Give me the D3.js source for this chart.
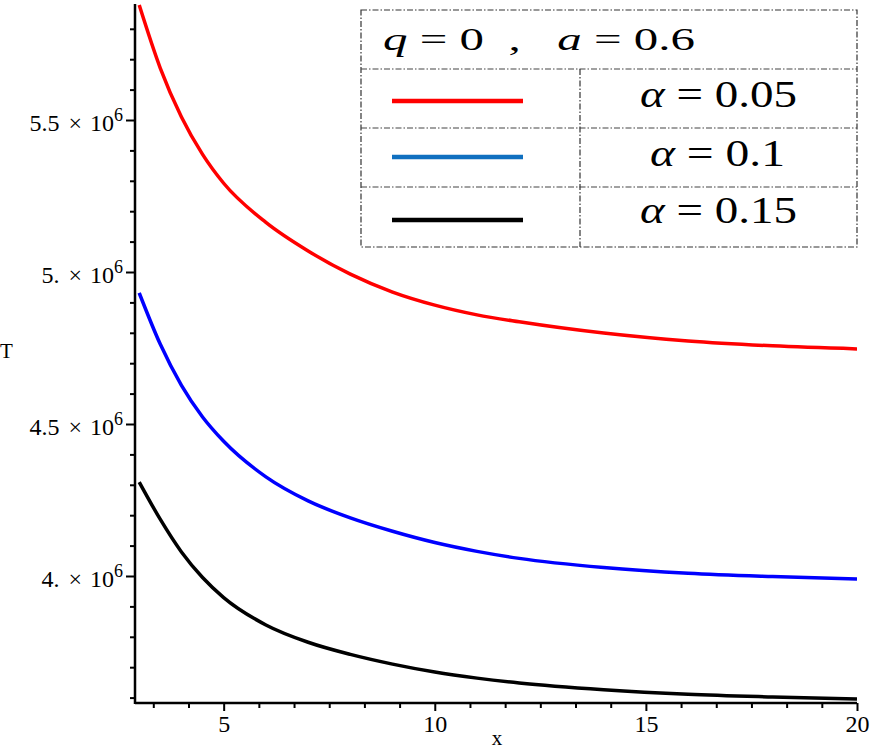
<!DOCTYPE html>
<html>
<head>
<meta charset="utf-8">
<script src="https://cdn.jsdelivr.net/npm/d3@7/dist/d3.min.js"></script>
<style>
  html, body { margin: 0; padding: 0; background: #fff; }
  svg { display: block; }
  text { font-family: "Liberation Serif", "Times New Roman", serif; fill: #000; }
</style>
</head>
<body>
<svg id="chart" width="871" height="752"></svg>
<script>
// ---- data ----
const xValues = [3, 3.5, 4, 4.5, 5, 6, 7, 8, 9, 10, 11, 12, 14, 16, 18, 20];
const seriesAlpha005 = [5.878e6, 5.670e6, 5.510e6, 5.387e6, 5.292e6, 5.163e6, 5.069e6, 4.993e6, 4.934e6, 4.891e6, 4.859e6, 4.836e6, 4.799e6, 4.773e6, 4.757e6, 4.747e6];
const seriesAlpha01  = [4.931e6, 4.762e6, 4.627e6, 4.523e6, 4.443e6, 4.326e6, 4.247e6, 4.191e6, 4.147e6, 4.110e6, 4.081e6, 4.058e6, 4.028e6, 4.009e6, 3.998e6, 3.990e6];
const seriesAlpha015 = [4.309e6, 4.186e6, 4.079e6, 3.995e6, 3.929e6, 3.839e6, 3.782e6, 3.742e6, 3.710e6, 3.684e6, 3.664e6, 3.648e6, 3.626e6, 3.611e6, 3.602e6, 3.595e6];
const seriesNames = ["0.05", "0.1", "0.15"];
const seriesColors = ["#ff0000", "#0000ff", "#000000"];
const legendColors = ["#ff0000", "#1070c0", "#000000"];
const xMajorTicks = [5, 10, 15, 20];
const xMinorTicks = [3.3333, 4.1667, 5.8333, 6.6667, 7.5, 8.3333, 9.1667, 10.8333, 11.6667, 12.5, 13.3333, 14.1667, 15.8333, 16.6667, 17.5, 18.3333, 19.1667];
const yMajorTicks = [4.0e6, 4.5e6, 5.0e6, 5.5e6];
const yMajorLabels = ["4.", "4.5", "5.", "5.5"];
const yMinorTicks = [3.6e6, 3.7e6, 3.8e6, 3.9e6, 4.1e6, 4.2e6, 4.3e6, 4.4e6, 4.6e6, 4.7e6, 4.8e6, 4.9e6, 5.1e6, 5.2e6, 5.3e6, 5.4e6, 5.6e6, 5.7e6, 5.8e6];
const xDomain = [2.9, 20];
const yDomain = [3.5822e6, 5.8816e6];

// ---- layout ----
const svg = d3.select("#chart");
const pLeft = 135, pRight = 857, pTop = 4, pBottom = 703;
const x = d3.scaleLinear().domain(xDomain).range([pLeft, pRight]);
const y = d3.scaleLinear().domain(yDomain).range([pBottom, pTop]);

// curves
const series = [seriesAlpha005, seriesAlpha01, seriesAlpha015];
const line = d3.line().x(d => x(d[0])).y(d => y(d[1])).curve(d3.curveMonotoneX);
series.forEach((s, i) => {
  svg.append("path")
    .datum(xValues.map((xv, j) => [xv, s[j]]))
    .attr("d", line)
    .attr("fill", "none")
    .attr("stroke", seriesColors[i])
    .attr("stroke-width", 3.5)
    .attr("stroke-linecap", "butt");
});

// x axis
const gx = svg.append("g").attr("transform", `translate(0,${pBottom})`);
gx.call(d3.axisBottom(x).tickValues(xMinorTicks).tickSize(5).tickFormat("").tickSizeOuter(0));
gx.call(g => g.select(".domain").remove());
const gx2 = svg.append("g").attr("transform", `translate(0,${pBottom})`);
gx2.call(d3.axisBottom(x).tickValues(xMajorTicks).tickSize(8).tickSizeOuter(0).tickPadding(6));
gx2.selectAll("text").attr("font-size", 24).attr("font-family", "Liberation Serif").attr("dy", null).attr("y", 29);
gx2.select(".domain").attr("stroke-width", 2.5).attr("d", `M${pLeft},0H${pRight}`);
[gx, gx2].forEach(g => g.selectAll("line").attr("stroke-width", 2));

// y axis
const gy = svg.append("g").attr("transform", `translate(${pLeft},0)`);
gy.call(d3.axisLeft(y).tickValues(yMinorTicks).tickSize(5).tickFormat("").tickSizeOuter(0));
gy.call(g => g.select(".domain").remove());
const gy2 = svg.append("g").attr("transform", `translate(${pLeft},0)`);
gy2.call(d3.axisLeft(y).tickValues(yMajorTicks).tickSize(9).tickSizeOuter(0).tickFormat(""));
gy2.select(".domain").attr("stroke-width", 2.5).attr("d", `M0,${pTop}V${pBottom + 1}`);
[gy, gy2].forEach(g => g.selectAll("line").attr("stroke-width", 2));

yMajorTicks.forEach((v, i) => {
  const t = svg.append("text")
    .attr("x", 123).attr("y", y(v) + 11)
    .attr("text-anchor", "end")
    .attr("font-size", 24);
  t.append("tspan").text(yMajorLabels[i]);
  t.append("tspan").attr("dx", 9).text("\u00d7");
  t.append("tspan").attr("dx", 8).text("10");
  t.append("tspan").attr("font-size", 18).attr("dy", -10).text("6");
});

// axis titles
svg.append("text").attr("x", 0).attr("y", 358).attr("font-size", 21).text("T");
svg.append("text").attr("x", 497).attr("y", 745).attr("text-anchor", "middle").attr("font-size", 21).text("x");

// ---- legend table ----
const lg = svg.append("g");
const lx0 = 361, lx1 = 857, ly0 = 10, ly1 = 247;
const rowsY = [69, 128, 187];
const colX = 580;
const dash = "6,2,1.5,2";
lg.append("rect").attr("x", lx0).attr("y", ly0).attr("width", lx1 - lx0).attr("height", ly1 - ly0)
  .attr("fill", "#fff").attr("stroke", "#333").attr("stroke-width", 1.2).attr("stroke-dasharray", dash);
rowsY.forEach(ry => {
  lg.append("line").attr("x1", lx0).attr("x2", lx1).attr("y1", ry).attr("y2", ry)
    .attr("stroke", "#444").attr("stroke-width", 1.2).attr("stroke-dasharray", dash);
});
lg.append("line").attr("x1", colX).attr("x2", colX).attr("y1", rowsY[0]).attr("y2", ly1)
  .attr("stroke", "#333").attr("stroke-width", 1.2).attr("stroke-dasharray", dash);

// title row
const tt = lg.append("text").attr("x", 383).attr("y", 50).attr("font-size", 31)
  .attr("textLength", 312).attr("lengthAdjust", "spacingAndGlyphs").style("white-space", "pre");
tt.append("tspan").attr("font-style", "italic").text("q");
tt.append("tspan").text(" = 0  ,   ");
tt.append("tspan").attr("font-style", "italic").text("a");
tt.append("tspan").text(" = 0.6");

const legendLineY = [101, 157, 220];
const legendTextY = [107, 166, 223];
const legendTextX = [[640, 797], [650, 785], [640, 797]];
seriesNames.forEach((name, i) => {
  lg.append("line").attr("x1", 392).attr("x2", 523).attr("y1", legendLineY[i]).attr("y2", legendLineY[i])
    .attr("stroke", legendColors[i]).attr("stroke-width", 4.5);
  const t = lg.append("text").attr("x", legendTextX[i][0]).attr("y", legendTextY[i]).attr("font-size", 37)
    .attr("textLength", legendTextX[i][1] - legendTextX[i][0]).attr("lengthAdjust", "spacingAndGlyphs")
    .style("white-space", "pre");
  t.append("tspan").attr("font-style", "italic").text("\u03b1");
  t.append("tspan").text(" = " + name);
});
</script>
</body>
</html>
